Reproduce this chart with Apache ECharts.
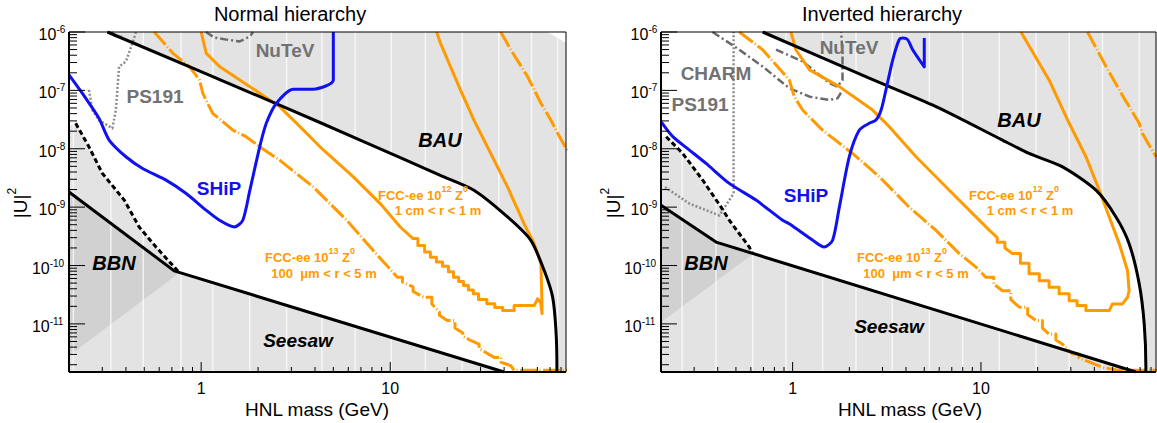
<!DOCTYPE html>
<html>
<head>
<meta charset="utf-8">
<title>HNL sensitivity</title>
<script src="https://cdn.jsdelivr.net/npm/echarts@6/dist/echarts.min.js"></script>
<style>
  html, body { margin: 0; padding: 0; background: #fff; }
  #chart { width: 1157px; height: 423px; }
</style>
</head>
<body>
<div id="chart"></div>
<script>
// ---------- axes ----------
const massRange = [0.2, 85];          // GeV
const mixRange = [1.5e-12, 1e-6];     // |U|^2
const massMajorTicks = [1, 10];
const massMajorLabels = ['1', '10'];
const massMinorTicks = [0.3, 0.4, 0.5, 0.6, 0.7, 0.8, 0.9, 2, 3, 4, 5, 6, 7, 8, 9, 20, 30, 40, 50, 60, 70, 80];
const mixMajorExponents = [-11, -10, -9, -8, -7, -6];

// ---------- Normal hierarchy ----------
const nhBAU = [[0.319, 1e-6], [2.6, 5.6e-8], [6.93, 1.41e-8], [18.4, 3.5e-9], [27.7, 1.95e-9], [41.7, 6.8e-10],
  [55.4, 2.7e-10], [65.2, 8.2e-11], [72.2, 2.9e-11], [75.2, 7.8e-12], [76.1, 1.8e-12], [76.1, 1.5e-12]];
const nhSeesaw = [[0.2, 1.82e-9], [0.72, 8.1e-11], [40, 1.5e-12]];
const nhBBN = [[0.217, 2.73e-8], [0.255, 1.08e-8], [0.300, 3.8e-9], [0.392, 1.32e-9], [0.470, 4.57e-10],
  [0.577, 2.07e-10], [0.76, 7.8e-11]];
const nhBBNEdge = [0.2, 2.4e-8];
const nhBBNShade = [[0.2, 1.82e-9], [0.72, 8.1e-11], [0.77, 7.6e-11], [0.2, 2.85e-12]];
const nhCornerCut = [[67.9, 1e-6], [85, 1e-6], [85, 6.5e-7]];
const nhSHiP = [[0.2, 1.85e-7], [0.235, 8.95e-8], [0.288, 3.33e-8], [0.326, 1.41e-8], [0.400, 7.3e-9],
  [0.490, 4.6e-9], [0.652, 2.9e-9], [0.833, 1.71e-9], [1.06, 8.9e-10], [1.25, 5.96e-10], [1.50, 4.57e-10],
  [1.66, 5.96e-10], [1.81, 1.95e-9], [2.04, 1.08e-8], [2.21, 2.73e-8], [2.50, 6.03e-8], [3.07, 1.05e-7],
  [3.91, 1.05e-7], [5.0, 1.51e-7], [5.0, 1e-6]];
const nhPS191 = [[0.255, 1.02e-7], [0.266, 4.6e-8], [0.288, 3.1e-8], [0.339, 2.24e-8], [0.354, 4.6e-8],
  [0.368, 2.56e-7], [0.400, 3.13e-7], [0.434, 6.5e-7], [0.452, 1e-6]];
const nhCHARM = [[0.335, 1e-6], [0.35, 8.6e-7], [0.38, 8.3e-7]];
const nhNuTeV = [[1.06, 1e-6], [1.18, 8.0e-7], [1.36, 7.4e-7], [1.60, 6.9e-7], [1.81, 8.4e-7], [1.88, 1e-6]];
const nhFCC12 = [[1.0, 1e-6], [1.063, 4.35e-7], [1.25, 2.56e-7], [1.60, 1.51e-7], [2.04, 8.95e-8], [2.60, 5.27e-8],
  [3.33, 2.39e-8], [4.25, 1.08e-8], [6.38, 3.3e-9], [8.85, 1.15e-9], [11.3, 4.57e-10], [13.2, 2.9e-10],
  [14.0, 2.9e-10], [14.0, 2.2e-10], [15.2, 2.2e-10], [15.2, 1.7e-10], [16.3, 1.7e-10], [16.3, 1.39e-10],
  [17.55, 1.39e-10], [17.55, 1.15e-10], [18.9, 1.15e-10], [18.9, 9.7e-11], [20.3, 9.7e-11], [20.3, 7.8e-11],
  [21.6, 7.8e-11], [21.6, 6.3e-11], [23.0, 6.3e-11], [23.0, 5.3e-11], [24.4, 5.3e-11], [24.4, 4.55e-11],
  [25.9, 4.55e-11], [25.9, 3.8e-11], [27.5, 3.8e-11], [27.5, 3.28e-11], [29.3, 3.28e-11], [29.3, 2.62e-11],
  [32.4, 2.62e-11], [32.4, 2.21e-11], [35.7, 2.21e-11], [35.7, 1.91e-11], [39.3, 1.91e-11], [39.3, 1.69e-11],
  [45.2, 1.69e-11], [45.2, 2.06e-11], [57.7, 2.06e-11], [60.1, 2.69e-11], [62.5, 2.3e-11], [63.5, 1.5e-11],
  [63.3, 3e-11], [62.6, 1.07e-10], [57.7, 2.37e-10], [51.0, 5.2e-10], [41.7, 2.22e-9], [34.0, 8.3e-9],
  [27.7, 3.1e-8], [23.5, 1.02e-7], [18.4, 6.5e-7], [17.6, 1e-6]];
const nhFCC13 = [[0.565, 1e-6], [0.707, 4.35e-7], [0.867, 2.56e-7], [0.979, 1.51e-7], [1.02, 8.95e-8],
  [1.06, 6.87e-8], [1.15, 4.06e-8], [1.47, 2.09e-8], [1.73, 1.61e-8], [2.04, 1.08e-8], [2.60, 6.4e-9],
  [3.91, 2.22e-9], [5.89, 5.96e-10], [7.83, 2.07e-10], [10.9, 6.3e-11], [11.6, 6.3e-11], [11.6, 5.2e-11],
  [13.2, 4.3e-11], [13.2, 3.6e-11], [15.0, 2.86e-11], [16.6, 2.86e-11], [16.6, 2.2e-11], [18.2, 1.6e-11],
  [18.2, 1.4e-11], [20.0, 1.14e-11], [22.0, 1.14e-11], [22.0, 8.5e-12], [24.2, 7.0e-12], [24.2, 6.2e-12],
  [26.6, 5.2e-12], [29.5, 4.5e-12], [29.5, 3.8e-12], [35.4, 2.67e-12], [38.5, 2.67e-12], [38.5, 2.2e-12],
  [43.4, 1.92e-12], [45.2, 1.6e-12], [86, 1.6e-12]];
const nhFCC13Upper = [[38.4, 1e-6], [43.4, 4.97e-7], [53.2, 1.73e-7], [62.6, 6.03e-8], [70.7, 3.1e-8],
  [76.8, 1.84e-8], [86, 9.5e-9]];
const nhGridLines = [0.211, 0.333, 0.494, 0.783, 1.152, 1.805, 2.83, 4.35, 6.52, 10.12, 15.34, 24.0, 37.5, 55.9, 76.8];

// ---------- Inverted hierarchy ----------
const ihBAU = [[0.693, 1e-6], [2.55, 1.62e-7], [5.77, 5.27e-8], [13.0, 1.41e-8], [18.0, 8.3e-9], [27.1, 4.9e-9],
  [40.8, 1.95e-9], [52.1, 6.8e-10], [61.2, 2.37e-10], [69.2, 4.9e-11], [73.6, 1e-11], [75.1, 1.8e-12], [75.1, 1.5e-12]];
const ihSeesaw = [[0.2, 1.08e-9], [0.392, 2.52e-10], [66.5, 1.5e-12]];
const ihBBN = [[0.213, 1.61e-8], [0.261, 8.3e-9], [0.333, 2.9e-9], [0.417, 1.0e-9], [0.461, 5.96e-10],
  [0.589, 2.07e-10], [0.61, 1.63e-10]];
const ihBBNEdge = [0.2, 1.53e-8];
const ihBBNShade = [[0.2, 1.08e-9], [0.392, 2.52e-10], [0.62, 1.6e-10], [0.2, 1.07e-11]];
const ihSHiP = [[0.2, 2.91e-8], [0.231, 1.61e-8], [0.283, 9.5e-9], [0.347, 5.6e-9], [0.461, 2.55e-9],
  [0.639, 1.32e-9], [0.885, 5.96e-10], [0.96, 5.2e-10], [1.28, 2.7e-10], [1.47, 2.07e-10], [1.63, 2.7e-10],
  [1.77, 1.0e-9], [2.0, 7.3e-9], [2.26, 2.09e-8], [2.55, 2.73e-8], [2.77, 3.1e-8], [2.95, 4.6e-8],
  [3.13, 1.02e-7], [3.40, 3.34e-7], [3.68, 7.4e-7], [3.84, 7.9e-7], [4.08, 7.4e-7], [4.34, 4.97e-7],
  [5.0, 2.53e-7], [5.0, 7.9e-7]];
const ihPS191 = [[0.21, 2.2e-9], [0.283, 1.15e-9], [0.408, 7.2e-10], [0.486, 1.71e-9], [0.486, 1e-6]];
const ihCHARM = [[0.376, 1e-6], [0.521, 4.97e-7], [0.693, 2.56e-7], [0.96, 1.09e-7], [1.23, 7.8e-8],
  [1.57, 6.87e-8], [1.73, 7.3e-8], [1.84, 1.0e-7]];
const ihNuTeV = [[0.816, 4.97e-7], [1.13, 3.13e-7], [1.57, 1.33e-7], [1.73, 1.16e-7], [1.84, 1.51e-7],
  [1.84, 4.07e-7], [1.81, 1e-6]];
const ihFCC12 = [[0.98, 1e-6], [1.04, 4.97e-7], [1.23, 2.25e-7], [1.77, 1.16e-7], [2.66, 4.6e-8], [3.26, 2.39e-8],
  [4.52, 7.3e-9], [6.79, 1.95e-9], [9.41, 6.8e-10], [11.1, 4.0e-10], [12.2, 3.0e-10], [12.2, 2.5e-10],
  [13.4, 2.5e-10], [13.4, 2.0e-10], [14.7, 1.6e-10], [16.2, 1.6e-10],
  [16.2, 1.09e-10], [18.0, 1.09e-10], [18.0, 7.2e-11], [20.4, 7.2e-11], [20.4, 5.5e-11], [23.0, 5.5e-11],
  [23.0, 4.26e-11], [26.0, 4.26e-11], [26.0, 3.3e-11], [29.4, 3.3e-11], [29.4, 2.5e-11], [32.4, 2.5e-11],
  [32.4, 2.06e-11], [36.1, 2.06e-11], [36.1, 1.69e-11], [48.0, 1.69e-11], [49.9, 2.2e-11], [56.4, 2.2e-11],
  [60.0, 2.86e-11], [61.2, 3.7e-11], [60.0, 8.2e-11], [54.2, 2.37e-10], [48.0, 6.8e-10], [42.5, 1.95e-9],
  [36.1, 7.3e-9], [29.4, 2.73e-8], [23.0, 1.51e-7], [16.3, 1e-6]];
const ihFCC13 = [[0.521, 1e-6], [0.693, 4.97e-7], [0.96, 1.51e-7], [1.02, 7.8e-8], [1.13, 4.6e-8], [1.44, 2.09e-8],
  [2.08, 8.3e-9], [2.89, 3.3e-9], [4.16, 1.0e-9], [5.77, 4.0e-10], [7.67, 1.6e-10], [9.41, 9.4e-11],
  [10.6, 6.3e-11], [11.7, 6.3e-11], [11.7, 4.8e-11], [13.0, 3.7e-11], [14.4, 3.7e-11], [14.4, 2.6e-11],
  [16.0, 1.93e-11], [17.7, 1.93e-11], [17.7, 1.45e-11], [19.6, 1.14e-11], [21.2, 1.14e-11], [21.2, 8.5e-12],
  [23.0, 6.7e-12], [25.0, 6.7e-12], [25.0, 5.3e-12], [27.1, 4.5e-12], [30.6, 3.05e-12], [33.2, 3.05e-12],
  [33.2, 2.6e-12], [36.1, 2.34e-12], [44.2, 1.8e-12], [54.2, 1.6e-12], [86, 1.6e-12]];
const ihFCC13Upper = [[36.8, 1e-6], [47, 2.3e-7], [58.3, 6.87e-8], [69.2, 2.73e-8], [72.1, 1.8e-8], [85, 7.3e-9]];
const ihGridLines = [0.259, 0.392, 0.613, 0.923, 1.443, 2.17, 3.38, 5.32, 7.99, 12.5, 19.6, 29.4, 44.2, 69.2];

// ---------- styling ----------
const FONT = '"Liberation Sans", Arial, Helvetica, sans-serif';
const ORANGE = '#ff9a00';
const BLUE = '#1010f0';
const GREY_TXT = '#727272';
const SHADE = '#e3e3e3';
const SHADE_DARK = '#d1d1d1';
const LONG_DASH_DOT = [17, 2.5, 1, 2.5];

// region left unshaded: below BAU, above seesaw, right of BBN
function allowedRegion(bau, seesaw, bbn, edge) {
  return [[massRange[0], mixRange[1]]]
    .concat(bau)
    .concat([seesaw[seesaw.length - 1]])
    .concat(bbn.slice().reverse())
    .concat([edge]);
}

function polygonSeries(gi, pts, fill, z) {
  return {
    type: 'custom', xAxisIndex: gi, yAxisIndex: gi, z, clip: true, silent: true,
    data: [pts[0]],
    renderItem: (params, api) => ({
      type: 'polygon',
      shape: { points: pts.map(p => api.coord(p)) },
      style: { fill }
    })
  };
}

function stripeSeries(gi, masses, z) {
  return {
    type: 'custom', xAxisIndex: gi, yAxisIndex: gi, z, clip: true, silent: true,
    data: [[1, 1e-9]],
    renderItem: (params, api) => {
      const cs = params.coordSys;
      return {
        type: 'group',
        children: masses.map(m => {
          const x = api.coord([m, 1e-9])[0];
          return { type: 'line', shape: { x1: x, y1: cs.y, x2: x, y2: cs.y + cs.height },
            style: { stroke: 'rgba(255,255,255,0.7)', lineWidth: 1.5 } };
        })
      };
    }
  };
}

function curve(gi, data, color, width, dash, z, smooth) {
  return {
    type: 'line', xAxisIndex: gi, yAxisIndex: gi, data, symbol: 'none', showSymbol: false,
    smooth: smooth || false, z: z || 6, silent: true, clip: true,
    lineStyle: { color, width, type: dash || 'solid', cap: 'butt', join: 'round' }
  };
}

function frameSeries(gi) {
  return {
    type: 'custom', xAxisIndex: gi, yAxisIndex: gi, z: 30, clip: false, silent: true,
    data: [[1, 1e-9]],
    renderItem: (params, api) => {
      const cs = params.coordSys;
      const L = cs.x, T = cs.y, R = cs.x + cs.width, B = cs.y + cs.height;
      const ch = [];
      const ln = (x1, y1, x2, y2, w) => ch.push({ type: 'line', shape: { x1, y1, x2, y2 },
        style: { stroke: '#000', lineWidth: w || 1 } });
      const tx = (x, y, text, size, align) => ch.push({ type: 'text', x, y,
        style: { text, fill: '#000', font: size + 'px ' + FONT, align, verticalAlign: 'middle' } });
      // |U|^2 ticks and labels
      mixMajorExponents.forEach(e => {
        const y = api.coord([1, Math.pow(10, e)])[1];
        ln(L, y, L + 16, y, 1);
        const bx = L - (String(Math.abs(e)).length > 1 ? 19.3 : 12.6);
        tx(bx, y + 2.5, '10', 16, 'right');
        tx(bx, y - 2.5, String(e), 10, 'left');
      });
      for (let e = -12; e <= -7; e++) {
        for (let k = 2; k <= 9; k++) {
          const v = k * Math.pow(10, e);
          if (v < mixRange[0] || v > mixRange[1]) continue;
          const y = api.coord([1, v])[1];
          ln(L, y, L + 8, y, 1);
        }
      }
      // mass ticks and labels
      massMajorTicks.forEach((m, i) => {
        const x = api.coord([m, 1e-9])[0];
        ln(x, B, x, B - 10, 1);
        tx(x, B + 16.5, massMajorLabels[i], 16, 'center');
      });
      massMinorTicks.forEach(m => {
        const x = api.coord([m, 1e-9])[0];
        ln(x, B, x, B - 5, 1);
      });
      // frame
      ln(L, T, R, T, 1);
      ln(R, T, R, B, 1);
      ln(L, T, L, B, 2);
      ln(L, B, R, B, 2);
      return { type: 'group', children: ch };
    }
  };
}

function panelSeries(gi, d) {
  const s = [];
  s.push(polygonSeries(gi, d.shade, SHADE_DARK, 1));
  s.push(stripeSeries(gi, d.gridLines, 2));
  s.push(polygonSeries(gi, allowedRegion(d.bau, d.seesaw, d.bbn, d.edge), '#ffffff', 3));
  if (d.cut) s.push(polygonSeries(gi, d.cut, '#ffffff', 3));
  s.push(curve(gi, d.ps191, '#8c8c8c', 2.5, [2, 2], 5));
  s.push(curve(gi, d.charm, '#6a6a6a', 2.5, [8, 3, 2, 3], 5));
  s.push(curve(gi, d.nutev, '#6a6a6a', 2.5, [8, 3, 2, 3], 5));
  s.push(curve(gi, d.fcc13, ORANGE, 3, LONG_DASH_DOT, 6));
  s.push(curve(gi, d.fcc13Upper, ORANGE, 3, LONG_DASH_DOT, 6));
  s.push(curve(gi, d.fcc12, ORANGE, 3, 'solid', 6));
  s.push(curve(gi, d.bau, '#000', 3, 'solid', 7, 0.25));
  s.push(curve(gi, d.seesaw, '#000', 3, 'solid', 7));
  s.push(curve(gi, d.bbn, '#000', 3, [5, 3], 7));
  s.push(curve(gi, d.ship, BLUE, 3, 'solid', 8, 0.25));
  s.push(frameSeries(gi));
  return s;
}

const nh = { bau: nhBAU, seesaw: nhSeesaw, bbn: nhBBN, edge: nhBBNEdge, shade: nhBBNShade, cut: nhCornerCut,
  ship: nhSHiP, ps191: nhPS191, charm: nhCHARM, nutev: nhNuTeV, fcc12: nhFCC12, fcc13: nhFCC13,
  fcc13Upper: nhFCC13Upper, gridLines: nhGridLines };
const ih = { bau: ihBAU, seesaw: ihSeesaw, bbn: ihBBN, edge: ihBBNEdge, shade: ihBBNShade, cut: null,
  ship: ihSHiP, ps191: ihPS191, charm: ihCHARM, nutev: ihNuTeV, fcc12: ihFCC12, fcc13: ihFCC13,
  fcc13Upper: ihFCC13Upper, gridLines: ihGridLines };

// ---------- annotations ----------
function label(x, y, text, size, color, opts) {
  opts = opts || {};
  return { type: 'text', x, y, z: 40, silent: true, rotation: opts.rotation || 0,
    style: { text, fill: color, align: 'center', verticalAlign: 'middle',
      font: (opts.style || '') + ' ' + (opts.weight || 'bold') + ' ' + size + 'px ' + FONT,
      rich: opts.rich } };
}
const fccRich = {
  a: { fontSize: 13, fontWeight: 'bold', fill: ORANGE, fontFamily: FONT, lineHeight: 17, verticalAlign: 'bottom' },
  s: { fontSize: 9, fontWeight: 'bold', fill: ORANGE, fontFamily: FONT, lineHeight: 11, verticalAlign: 'top' }
};
const uRich = {
  a: { fontSize: 19, fill: '#000', fontFamily: FONT, lineHeight: 24, verticalAlign: 'bottom' },
  s: { fontSize: 12, fill: '#000', fontFamily: FONT, lineHeight: 14, verticalAlign: 'top' }
};
const fcc12Title = '{a|FCC-ee 10}{s|12}{a| Z}{s|0}';
const fcc13Title = '{a|FCC-ee 10}{s|13}{a| Z}{s|0}';

function panelLabels(cfg) {
  return [
    label(cfg.title, 14, cfg.titleText, 20, '#000', { weight: 'normal' }),
    label(cfg.axisX, 409, 'HNL mass (GeV)', 19, '#000', { weight: 'normal' }),
    label(cfg.uX, 203, '{a||U|}{s|2}', 19, '#000', { weight: 'normal', rotation: Math.PI / 2, rich: uRich }),
    label(cfg.ship[0], cfg.ship[1], 'SHiP', 19, BLUE),
    label(cfg.bau[0], cfg.bau[1], 'BAU', 20, '#000', { style: 'italic' }),
    label(cfg.bbn[0], cfg.bbn[1], 'BBN', 20, '#000', { style: 'italic' }),
    label(cfg.seesaw[0], cfg.seesaw[1], 'Seesaw', 19, '#000', { style: 'italic' }),
    label(cfg.f12[0], cfg.f12[1], fcc12Title, 13, ORANGE, { rich: fccRich }),
    label(cfg.f12b[0], cfg.f12b[1], '1 cm < r < 1 m', 13, ORANGE),
    label(cfg.f13[0], cfg.f13[1], fcc13Title, 13, ORANGE, { rich: fccRich }),
    label(cfg.f13b[0], cfg.f13b[1], '100  \u03bcm < r < 5 m', 13, ORANGE)
  ].concat(cfg.extra);
}

const graphics = panelLabels({
  title: 290, titleText: 'Normal hierarchy', axisX: 317, uX: 18,
  ship: [219, 188], bau: [440, 140], bbn: [114, 263], seesaw: [298, 340],
  f12: [423, 193], f12b: [438, 210], f13: [310, 255], f13b: [324, 273],
  extra: [label(285, 50, 'NuTeV', 19, GREY_TXT), label(155, 96, 'PS191', 19, GREY_TXT)]
}).concat(panelLabels({
  title: 882, titleText: 'Inverted hierarchy', axisX: 910, uX: 611,
  ship: [806, 195], bau: [1019, 120], bbn: [706, 263], seesaw: [889, 326],
  f12: [1014, 193], f12b: [1030, 210], f13: [902, 255], f13b: [916, 273],
  extra: [label(849, 47, 'NuTeV', 19, GREY_TXT), label(716, 73, 'CHARM', 19, GREY_TXT),
    label(700, 104, 'PS191', 19, GREY_TXT)]
}));

const chart = echarts.init(document.getElementById('chart'), null, { renderer: 'svg' });
const axisCommon = { type: 'log', logBase: 10, show: false, splitLine: { show: false } };
chart.setOption({
  animation: false,
  grid: [
    { left: 69, top: 32, width: 497, height: 340, show: true, backgroundColor: SHADE, borderWidth: 0 },
    { left: 661, top: 32, width: 495, height: 340, show: true, backgroundColor: SHADE, borderWidth: 0 }
  ],
  xAxis: [
    Object.assign({ gridIndex: 0, min: massRange[0], max: massRange[1] }, axisCommon),
    Object.assign({ gridIndex: 1, min: massRange[0], max: massRange[1] }, axisCommon)
  ],
  yAxis: [
    Object.assign({ gridIndex: 0, min: mixRange[0], max: mixRange[1] }, axisCommon),
    Object.assign({ gridIndex: 1, min: mixRange[0], max: mixRange[1] }, axisCommon)
  ],
  series: panelSeries(0, nh).concat(panelSeries(1, ih)),
  graphic: graphics
});
</script>
</body>
</html>
